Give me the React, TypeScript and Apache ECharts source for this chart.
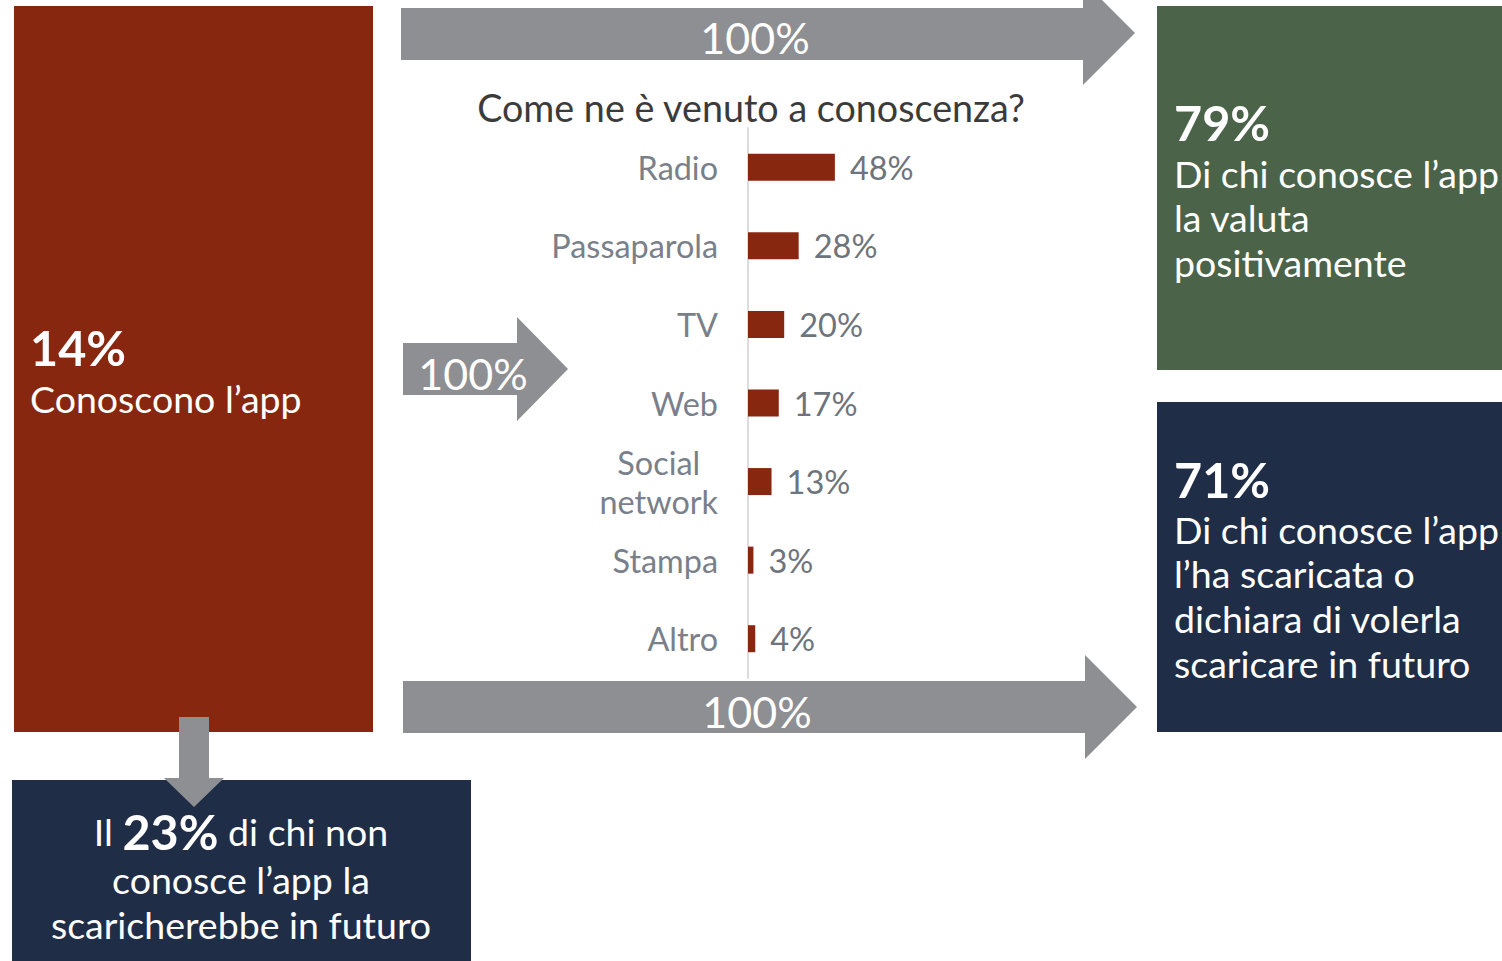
import React, { useEffect, useRef } from "react";
import * as echarts from "echarts";

const categories = ["Radio", "Passaparola", "TV", "Web", "Social network", "Stampa", "Altro"];
const values = [48, 28, 20, 17, 13, 3, 4];
const arrowLabels = ["100%", "100%", "100%"];
const title = "Come ne è venuto a conoscenza?";
const leftBig = "14%";
const leftText = "Conoscono l’app";
const greenBig = "79%";
const greenLines = ["Di chi conosce l’app", "la valuta", "positivamente"];
const navyBig = "71%";
const navyLines = ["Di chi conosce l’app", "l’ha scaricata o", "dichiara di volerla", "scaricare in futuro"];
const bottomPct = "23%";

const RED = "#88270f";
const GREEN = "#4b6349";
const NAVY = "#1f2d46";
const GREY = "#8e8f93";
const FONT = "Lato";
const BODY = 37.5;
const BIG = 48.5;

function txt(x: number, y: number, text: string, size: number, opts: any = {}) {
  return {
    type: "text",
    x,
    y,
    silent: true,
    style: {
      text,
      fill: opts.fill || "#ffffff",
      fontFamily: FONT,
      fontSize: size,
      fontWeight: opts.weight || "normal",
      align: opts.align || "left",
      verticalAlign: "middle",
    },
  };
}

export default function App() {
  const ref = useRef<HTMLDivElement>(null);
  useEffect(() => {
    document.body.style.margin = "0";
    const chart = echarts.init(ref.current!, null, { renderer: "svg" });
    const graphics: any[] = [
      { type: "rect", shape: { x: 14, y: 6, width: 359, height: 726 }, style: { fill: RED } },
      { type: "rect", shape: { x: 1157, y: 6, width: 345, height: 364 }, style: { fill: GREEN } },
      { type: "rect", shape: { x: 1157, y: 402, width: 345, height: 330 }, style: { fill: NAVY } },
      { type: "rect", shape: { x: 12, y: 780, width: 459, height: 181 }, style: { fill: NAVY } },
      {
        type: "polygon",
        shape: { points: [[401, 8], [1083, 8], [1083, -19], [1135, 33], [1083, 85], [1083, 60], [401, 60]] },
        style: { fill: GREY },
      },
      {
        type: "polygon",
        shape: { points: [[403, 343], [517, 343], [517, 317], [568, 369], [517, 421], [517, 395], [403, 395]] },
        style: { fill: GREY },
      },
      {
        type: "polygon",
        shape: { points: [[403, 681], [1085, 681], [1085, 655], [1137, 707], [1085, 759], [1085, 733], [403, 733]] },
        style: { fill: GREY },
      },
      {
        type: "polygon",
        shape: { points: [[179, 717], [209, 717], [209, 778], [224, 778], [194, 807], [164, 778], [179, 778]] },
        style: { fill: GREY },
      },
      txt(755, 37, arrowLabels[0], 43, { align: "center" }),
      txt(473, 373, arrowLabels[1], 43, { align: "center" }),
      txt(757, 711, arrowLabels[2], 43, { align: "center" }),
      txt(751, 107, title, 37.7, { align: "center", fill: "#3b3b3b" }),
      txt(30, 347, leftBig, BIG, { weight: "bold" }),
      txt(30, 398, leftText, BODY),
      txt(1174, 122, greenBig, BIG, { weight: "bold" }),
      ...greenLines.map((l, i) => txt(1174, 173 + i * 44.5, l, BODY)),
      txt(1174, 479, navyBig, BIG, { weight: "bold" }),
      ...navyLines.map((l, i) => txt(1174, 529 + i * 44.8, l, BODY)),
      {
        type: "text",
        x: 241,
        y: 831,
        silent: true,
        style: {
          text: `{n|Il }{b|${bottomPct}}{n| di chi non}`,
          align: "center",
          verticalAlign: "middle",
          rich: {
            n: { fontFamily: FONT, fontSize: BODY, fill: "#fff", color: "#fff" },
            b: { fontFamily: FONT, fontSize: BIG, fontWeight: "bold", fill: "#fff", color: "#fff" },
          },
        },
      },
      txt(241, 879, "conosce l’app la", BODY, { align: "center" }),
      txt(241, 924, "scaricherebbe in futuro", BODY, { align: "center" }),
    ];

    chart.setOption({
      animation: false,
      textStyle: { fontFamily: FONT },
      grid: { left: 748, top: 128, width: 181, height: 550, containLabel: false },
      xAxis: { type: "value", min: 0, max: 100, show: false },
      yAxis: {
        type: "category",
        data: categories,
        inverse: true,
        axisLine: { show: true, lineStyle: { color: "#dcdcdc", width: 2 } },
        axisTick: { show: false },
        axisLabel: {
          margin: 30,
          formatter: (v: string) =>
            v === "Social network" ? "{c|Social}\n{c|network}" : `{c|${v}}`,
          rich: {
            c: { align: "center", fontFamily: FONT, fontSize: 32.4, color: "#7a808a", lineHeight: 39 },
          },
        },
      },
      series: [
        {
          type: "bar",
          data: values,
          barWidth: 27,
          itemStyle: { color: RED },
          label: {
            show: true,
            position: "right",
            distance: 15,
            formatter: "{c}%",
            fontFamily: FONT,
            fontSize: 32.5,
            color: "#6e747c",
          },
        },
      ],
      graphic: graphics,
    });
    return () => chart.dispose();
  }, []);
  return <div ref={ref} style={{ width: 1502, height: 961 }} />;
}
